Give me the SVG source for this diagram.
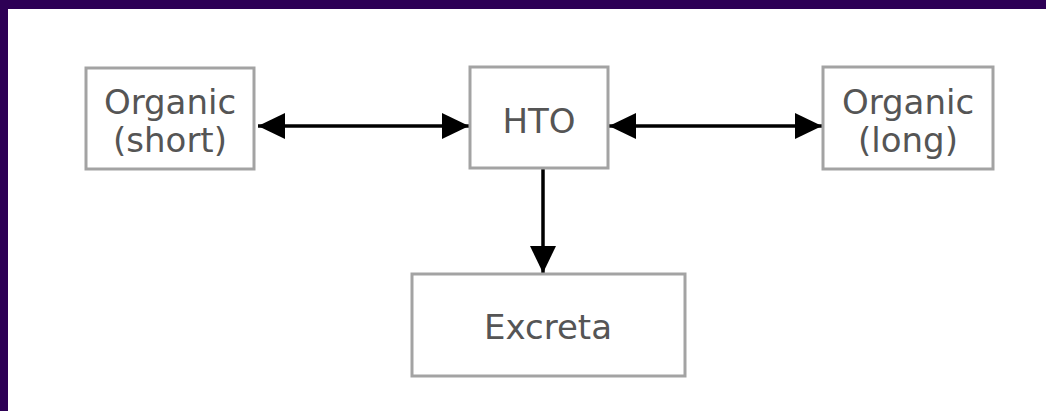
<svg xmlns="http://www.w3.org/2000/svg" width="1046" height="411" viewBox="0 0 1046 411">
<defs>
<style>
.box{fill:#fff;stroke:#a3a3a3;stroke-width:3}
.lbl{font-family:"DejaVu Sans",sans-serif;font-size:34px;fill:#555;text-anchor:middle}
.con{stroke:#000;stroke-width:3.5;fill:none}
</style>
<marker id="ah" markerUnits="userSpaceOnUse" markerWidth="28" markerHeight="28" viewBox="0 0 28 28" refX="27" refY="14" orient="auto-start-reverse">
<path d="M0,1 L27,14 L0,27 Z" fill="#000"/>
</marker>
</defs>
<rect x="0" y="0" width="1046" height="411" fill="#fff"/>
<rect x="0" y="0" width="1046" height="9" fill="#2d0055"/>
<rect x="0" y="0" width="8" height="411" fill="#2d0055"/>
<g id="connectors">
<line class="con" x1="258" y1="126" x2="469" y2="126" marker-start="url(#ah)" marker-end="url(#ah)"/>
<line class="con" x1="609" y1="126" x2="822" y2="126" marker-start="url(#ah)" marker-end="url(#ah)"/>
<line class="con" x1="543" y1="168" x2="543" y2="273" marker-end="url(#ah)"/>
</g>
<g id="organic-short">
<rect class="box" x="86" y="68" width="168" height="101"/>
<text class="lbl" x="170" y="114">Organic</text>
<text class="lbl" x="170" y="152">(short)</text>
</g>
<g id="hto">
<rect class="box" x="470" y="67" width="138" height="101"/>
<text class="lbl" x="539" y="133">HTO</text>
</g>
<g id="organic-long">
<rect class="box" x="823" y="67" width="170" height="102"/>
<text class="lbl" x="908" y="114">Organic</text>
<text class="lbl" x="908" y="152">(long)</text>
</g>
<g id="excreta">
<rect class="box" x="412" y="274" width="273" height="102"/>
<text class="lbl" x="548" y="339">Excreta</text>
</g>
</svg>
